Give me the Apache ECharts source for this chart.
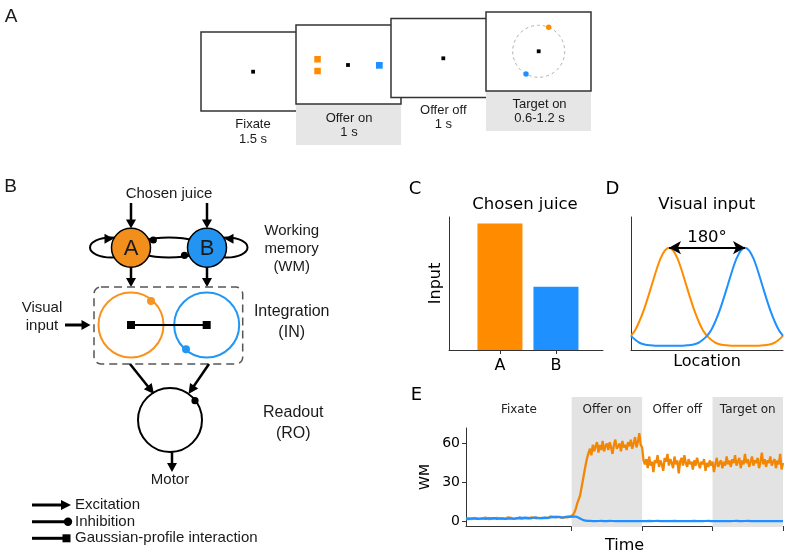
<!DOCTYPE html>
<html>
<head>
<meta charset="utf-8">
<script src="https://cdn.jsdelivr.net/npm/echarts@6/dist/echarts.min.js"></script>
<style>
html,body{margin:0;padding:0;background:#fff;}
#chart{width:787px;height:555px;}
</style>
</head>
<body>
<div id="chart"></div>
<script>
// ---------------- DATA ----------------
// Panel C: chosen juice input
const juiceCats = ['A', 'B'];
const juiceInput = [1.0, 0.5];

// Panel D: visual input profiles vs location (deg)
const locationDeg = [0,10,20,30,40,50,60,70,80,90,100,110,120,130,140,150,160,170,180,
  190,200,210,220,230,240,250,260,270,280,290,300,310,320,330,340,350,360];
const orangeVisual = [0.10,0.16,0.25,0.36,0.49,0.63,0.77,0.89,0.97,1.00,0.97,0.89,0.77,0.63,0.49,0.36,0.25,0.16,0.10,
  0.06,0.03,0.015,0.007,0.003,0,0,0,0,0,0,0,0.003,0.007,0.015,0.03,0.06,0.10];
const blueVisual = [0.10,0.06,0.03,0.015,0.007,0.003,0,0,0,0,0,0,0,0.003,0.007,0.015,0.03,0.06,0.10,
  0.16,0.25,0.36,0.49,0.63,0.77,0.89,0.97,1.00,0.97,0.89,0.77,0.63,0.49,0.36,0.25,0.16,0.10];
const separationLabel = '180°';

// Panel E: task phases and WM activity
const phaseNames = ['Fixate', 'Offer on', 'Offer off', 'Target on'];
const phaseBounds = [0, 1.5, 2.5, 3.5, 4.5];
const phaseShaded = [false, true, false, true];
const timeStep = 0.02; // s between samples
const orangeWM = [
  2.1,1.8,2.4,2.0,1.7,2.3,2.6,1.9,2.2,2.8, 2.0,1.6,2.4,2.1,2.9,2.2,1.8,2.5,2.0,2.7,
  2.3,1.9,2.6,3.0,2.2,1.8,2.4,2.9,2.1,2.5, 3.1,2.0,2.6,2.3,1.9,2.8,2.4,3.2,2.2,2.7,
  2.0,2.9,2.5,3.3,2.1,2.6,3.0,2.4,2.8,3.5, 2.2,2.9,2.6,3.4,2.3,3.1,2.7,3.6,2.5,3.0,
  3.8,2.6,3.2,2.9,3.7,2.7,3.3,4.0,2.8,3.4, 3.1,3.9,3.0,3.5,3.8,
  4,5,7,10,14,17,20,26,32,38,44,49,53,
  56,51,59,54,58,61,53,59,55,62, 54,58,60,55,61,57,52,59,63,56,
  58,60,54,62,57,59,55,61,58,63, 56,60,65,57,61,68,59,
  57,47,
  44,48,41,50,43,46,38,47,45,51, 42,47,44,39,49,46,52,43,48,45,
  41,50,44,47,37,46,49,43,51,45, 42,48,44,46,40,47,43,49,45,41,
  46,44,48,39,45,42,47,43,46,38, 44,49,42,45,47,41,46,43,50,44,
  47,42,48,45,51,43,46,49,41,47, 44,52,45,48,42,46,50,43,47,45,
  49,41,46,53,44,48,42,47,45,50, 43,46,48,41,47,44,52,40,45
];
const blueWM = [
  1.9,2.2,1.7,2.0,2.4,1.8,2.1,2.5,1.9,2.3, 2.0,1.7,2.2,2.6,1.9,2.1,2.4,1.8,2.3,2.0,
  2.5,2.1,1.9,2.4,2.2,2.7,2.0,2.3,1.8,2.6, 2.2,2.9,2.1,2.4,2.0,2.8,2.3,2.5,3.0,2.2,
  2.6,2.4,2.9,2.1,2.7,3.1,2.3,2.5,2.8,2.2, 3.0,2.6,2.4,3.2,2.7,2.5,2.9,3.3,2.6,2.8,
  3.1,2.7,3.4,2.9,3.0,2.8,3.5,3.1,2.9,3.6, 3.2,3.0,3.7,3.3,3.5,
  3.8,3.6,4.0,3.7,3.3,2.8,2.2,1.6,1.1,0.7,0.5,0.4,0.3,
  0.3,0.25,0.2,0.3,0.2,0.15,0.25,0.2,0.3,0.2, 0.2,0.25,0.15,0.2,0.3,0.2,0.25,0.15,0.2,0.25,
  0.2,0.3,0.2,0.15,0.25,0.2,0.2,0.3,0.15,0.2, 0.25,0.2,0.2,0.3,0.15,0.25,0.2,0.2,0.25,0.15,
  0.2,0.25,0.3,0.2,0.15,0.2,0.25,0.2,0.3,0.2, 0.15,0.2,0.25,0.2,0.2,0.3,0.15,0.25,0.2,0.2,
  0.3,0.2,0.15,0.25,0.2,0.2,0.25,0.3,0.2,0.15, 0.2,0.25,0.2,0.15,0.3,0.2,0.2,0.25,0.2,0.3,
  0.15,0.2,0.25,0.2,0.3,0.2,0.15,0.2,0.25,0.2, 0.2,0.3,0.2,0.25,0.15,0.2,0.2,0.3,0.2,0.25,
  0.2,0.15,0.25,0.2,0.3,0.2,0.2,0.25,0.15,0.2, 0.25,0.2,0.3,0.2,0.15,0.2,0.25,0.2,0.2,0.3,
  0.2,0.25,0.15,0.2,0.2,0.3,0.2,0.25,0.2,0.15, 0.2,0.25,0.2,0.3,0.2,0.15,0.25,0.2
];
const wmTicks = [0, 30, 60];
const timeTicks = [1.5, 2.5, 3.5, 4.5];

// ---------------- STYLE ----------------
const ORANGE = '#ff8c00';
const BLUE = '#1e90ff';
const ORANGE_E = '#f28705';
const DJ = 'DejaVu Sans';
const LS = 'Liberation Sans';
const AX = '#333';

// ---------------- SCHEMATICS (panels A & B) ----------------
const els = [];
function T(x, y, text, size, opts) {
  els.push({type: 'text', x: x, y: y, silent: true, style: Object.assign({
    text: text, font: size + 'px "' + LS + '"', fill: '#1a1a1a',
    textAlign: 'center', textVerticalAlign: 'middle', align: 'center', verticalAlign: 'middle'
  }, opts || {})});
}
function R(x, y, w, h, style, r) { els.push({type: 'rect', silent: true, shape: {x: x, y: y, width: w, height: h, r: r || 0}, style: style}); }
function C(cx, cy, r, style) { els.push({type: 'circle', silent: true, shape: {cx: cx, cy: cy, r: r}, style: style}); }
function E(cx, cy, rx, ry, style) { els.push({type: 'ellipse', silent: true, shape: {cx: cx, cy: cy, rx: rx, ry: ry}, style: style}); }
function L(x1, y1, x2, y2, style) { els.push({type: 'line', silent: true, shape: {x1: x1, y1: y1, x2: x2, y2: y2}, style: style}); }
function P(points, style) { els.push({type: 'polygon', silent: true, shape: {points: points}, style: style}); }
function arrow(x1, y1, x2, y2, lw, hl, hw, color) {
  color = color || '#000';
  const dx = x2 - x1, dy = y2 - y1, len = Math.hypot(dx, dy), ux = dx / len, uy = dy / len;
  const bx = x2 - ux * hl, by = y2 - uy * hl;
  L(x1, y1, bx + ux, by + uy, {stroke: color, lineWidth: lw});
  P([[x2, y2], [bx - uy * hw / 2, by + ux * hw / 2], [bx + uy * hw / 2, by - ux * hw / 2]], {fill: color});
}
const boxStyle = {fill: '#fff', stroke: '#333', lineWidth: 1.5};
const greyBox = {fill: '#e6e6e6'};

// Panel A
T(11, 17, 'A', 19);
R(201, 32, 105, 79, boxStyle);
R(251.2, 69.8, 3.8, 3.8, {fill: '#000'});
R(296, 104, 105, 41, greyBox);
R(296, 25, 105, 79, boxStyle);
R(346.1, 63.1, 3.8, 3.8, {fill: '#000'});
R(314.3, 56, 6.5, 6.5, {fill: ORANGE});
R(314.3, 67.8, 6.5, 6.5, {fill: ORANGE});
R(376, 62, 6.7, 6.7, {fill: BLUE});
R(391, 18.5, 105, 79, boxStyle);
R(441.4, 56.4, 3.8, 3.8, {fill: '#000'});
R(486, 91, 105, 40, greyBox);
R(486, 12, 105, 79, boxStyle);
C(538.7, 51.3, 26, {fill: 'none', stroke: '#b0b0b0', lineWidth: 1, lineDash: [3, 3]});
R(536.8, 49.4, 3.8, 3.8, {fill: '#000'});
C(548.7, 27.3, 2.7, {fill: ORANGE});
C(526, 74, 2.7, {fill: BLUE});
T(253, 124.5, 'Fixate', 13);
T(253, 139.5, '1.5 s', 13);
T(349, 118.5, 'Offer on', 13);
T(349, 132, '1 s', 13);
T(443.3, 110.5, 'Offer off', 13);
T(443.3, 124.5, '1 s', 13);
T(539.5, 104, 'Target on', 13);
T(539.5, 118, '0.6-1.2 s', 13);

// Panel B
T(10.5, 187, 'B', 19);
T(169, 193.5, 'Chosen juice', 15);
arrow(131, 203, 131, 228.5, 2.5, 9, 10);
arrow(207, 203, 207, 228.5, 2.5, 9, 10);
const loopStyle = {fill: 'none', stroke: '#000', lineWidth: 2};
E(111, 247.5, 21, 10, loopStyle);
E(169, 247.5, 36, 10, loopStyle);
E(227, 247.5, 20.5, 10, loopStyle);
C(131, 247.7, 19.5, {fill: '#f28e1c', stroke: '#000', lineWidth: 1.5});
C(207, 247.7, 19.5, {fill: '#2494f2', stroke: '#000', lineWidth: 1.5});
T(131, 248.5, 'A', 22);
T(207, 248.5, 'B', 22);
P([[113.5, 238.8], [104.5, 233.8], [104.5, 243.8]], {fill: '#000'});
P([[224.5, 238.8], [233.5, 233.8], [233.5, 243.8]], {fill: '#000'});
C(153.3, 240, 3.6, {fill: '#000'});
C(184.5, 255.3, 3.6, {fill: '#000'});
arrow(131, 267, 131, 287, 2.5, 9, 10);
arrow(207, 267, 207, 287, 2.5, 9, 10);
R(94, 287, 148.7, 77, {fill: 'none', stroke: '#555', lineWidth: 1.5, lineDash: [8, 5]}, 7);
C(131, 325, 32.5, {fill: 'none', stroke: '#f7931e', lineWidth: 2});
C(206.7, 325, 32.5, {fill: 'none', stroke: '#2196f3', lineWidth: 2});
C(151, 301, 4, {fill: '#f7931e'});
C(186, 349.3, 4, {fill: '#2196f3'});
L(131, 325, 206.7, 325, {stroke: '#000', lineWidth: 2});
R(127, 321, 8, 8, {fill: '#000'});
R(202.7, 321, 8, 8, {fill: '#000'});
T(42, 308, 'Visual', 15);
T(42, 325.5, 'input', 15);
arrow(65, 325, 90.5, 325, 3, 9, 10);
T(291.7, 231, 'Working', 15);
T(291.7, 249, 'memory', 15);
T(291.7, 267, '(WM)', 15);
T(291.7, 312, 'Integration', 16);
T(291.7, 332.5, '(IN)', 16);
T(293.3, 413, 'Readout', 16);
T(293.3, 433.5, '(RO)', 16);
arrow(130, 364, 154, 394, 2.5, 10, 10);
arrow(209, 364, 188.5, 394, 2.5, 10, 10);
C(170, 420, 32, {fill: 'none', stroke: '#000', lineWidth: 2});
C(195, 400.7, 3.6, {fill: '#000'});
arrow(172, 452, 172, 472, 2.5, 9, 10);
T(170, 480, 'Motor', 15);
arrow(32, 505, 71, 505, 3, 10, 10);
T(75, 505, 'Excitation', 15, {textAlign: 'left', align: 'left'});
L(32, 521.7, 66, 521.7, {stroke: '#000', lineWidth: 3});
C(68, 521.7, 4.2, {fill: '#000'});
T(75, 521.7, 'Inhibition', 15, {textAlign: 'left', align: 'left'});
L(32, 538.3, 64, 538.3, {stroke: '#000', lineWidth: 3});
R(62.5, 534.3, 8, 8, {fill: '#000'});
T(75, 538.3, 'Gaussian-profile interaction', 15, {textAlign: 'left', align: 'left'});

// panel letters & titles C/D/E
function TD(x, y, text, size, opts) { T(x, y, text, size, Object.assign({font: size + 'px "' + DJ + '"', fill: '#000'}, opts || {})); }
TD(415, 189, 'C', 18);
TD(612.5, 189, 'D', 18);
TD(416.5, 395, 'E', 18);
TD(525, 204.5, 'Chosen juice', 16.5);
TD(706.7, 204.5, 'Visual input', 16.5);

// ---------------- CHART ----------------
const wmTimes = orangeWM.map((_, i) => +(i * timeStep).toFixed(2));
const markAreaData = phaseNames.map((name, i) => [
  {xAxis: phaseBounds[i], name: name, itemStyle: {color: phaseShaded[i] ? '#e3e3e3' : 'rgba(0,0,0,0)'}},
  {xAxis: phaseBounds[i + 1]}
]);

const axisLineStyle = {show: true, onZero: false, lineStyle: {color: AX, width: 1}};
const noSplit = {show: false};

const option = {
  backgroundColor: '#fff',
  animation: false,
  graphic: {elements: els},
  grid: [
    {left: 449, top: 217, width: 154, height: 133},
    {left: 631, top: 217, width: 152, height: 133},
    {left: 466, top: 397, width: 317, height: 130},
    {left: 466, top: 428, width: 317, height: 99}
  ],
  xAxis: [
    {gridIndex: 0, type: 'value', min: -0.91, max: 1.84, axisLine: axisLineStyle, splitLine: noSplit,
      axisTick: {show: true, customValues: [0, 1], length: 4, lineStyle: {color: AX}},
      axisLabel: {show: true, customValues: [0, 1], formatter: v => juiceCats[Math.round(v)], fontSize: 16, fontFamily: DJ, color: '#000', margin: 8}},
    {gridIndex: 1, type: 'value', min: 0, max: 360, axisLine: axisLineStyle, splitLine: noSplit,
      axisTick: {show: false}, axisLabel: {show: false},
      name: 'Location', nameLocation: 'middle', nameGap: 4, nameTextStyle: {fontSize: 16, fontFamily: DJ, color: '#000', verticalAlign: 'top'}},
    {gridIndex: 2, type: 'value', min: 0, max: 4.5, show: false},
    {gridIndex: 3, type: 'value', min: 0, max: 4.5, axisLine: axisLineStyle, splitLine: noSplit,
      axisTick: {show: true, customValues: timeTicks, length: 5, lineStyle: {color: AX}}, axisLabel: {show: false},
      name: 'Time', nameLocation: 'middle', nameGap: 12, nameTextStyle: {fontSize: 16, fontFamily: DJ, color: '#000', verticalAlign: 'top'}}
  ],
  yAxis: [
    {gridIndex: 0, type: 'value', min: 0, max: 1.052, axisLine: axisLineStyle, splitLine: noSplit,
      axisTick: {show: false}, axisLabel: {show: false},
      name: 'Input', nameLocation: 'middle', nameGap: 5, nameTextStyle: {fontSize: 16, fontFamily: DJ, color: '#000', verticalAlign: 'bottom'}},
    {gridIndex: 1, type: 'value', min: -0.044, max: 1.313, axisLine: axisLineStyle, splitLine: noSplit,
      axisTick: {show: false}, axisLabel: {show: false}},
    {gridIndex: 2, type: 'value', min: 0, max: 1, show: false},
    {gridIndex: 3, type: 'value', min: -3.6, max: 72, axisLine: axisLineStyle, splitLine: noSplit,
      axisTick: {show: true, customValues: wmTicks, length: 4, lineStyle: {color: AX}},
      axisLabel: {show: true, customValues: wmTicks, fontSize: 14, fontFamily: DJ, color: '#000', margin: 6},
      name: 'WM', nameLocation: 'middle', nameGap: 34, nameTextStyle: {fontSize: 14, fontFamily: DJ, color: '#000', verticalAlign: 'bottom'}}
  ],
  series: [
    {type: 'bar', xAxisIndex: 0, yAxisIndex: 0, barWidth: 45, silent: true,
      data: juiceInput.map((v, i) => ({value: [i, v], itemStyle: {color: i === 0 ? ORANGE : BLUE}}))},
    {type: 'line', xAxisIndex: 1, yAxisIndex: 1, smooth: 0.35, showSymbol: false, symbol: 'none', silent: true,
      lineStyle: {color: ORANGE, width: 2}, itemStyle: {color: ORANGE},
      data: locationDeg.map((x, i) => [x, orangeVisual[i]]),
      markLine: {silent: true, symbol: ['arrow', 'arrow'], symbolSize: [10, 12],
        lineStyle: {color: '#000', width: 2, type: 'solid'},
        label: {show: true, position: 'middle', formatter: () => separationLabel, fontSize: 16.5, fontFamily: DJ, color: '#000', distance: 1},
        data: [[{coord: [locationDeg[orangeVisual.indexOf(1)], 1]}, {coord: [locationDeg[blueVisual.indexOf(1)], 1]}]]}},
    {type: 'line', xAxisIndex: 1, yAxisIndex: 1, smooth: 0.35, showSymbol: false, symbol: 'none', silent: true,
      lineStyle: {color: BLUE, width: 2}, itemStyle: {color: BLUE},
      data: locationDeg.map((x, i) => [x, blueVisual[i]])},
    {type: 'line', xAxisIndex: 2, yAxisIndex: 2, z: 1, silent: true, symbol: 'none', lineStyle: {opacity: 0},
      data: [[0, 0], [4.5, 0]],
      markArea: {silent: true,
        label: {show: true, position: 'insideTop', distance: 7, fontSize: 12, fontFamily: DJ, color: '#222'},
        data: markAreaData}},
    {type: 'line', xAxisIndex: 3, yAxisIndex: 3, z: 3, silent: true, symbol: 'none',
      lineStyle: {color: ORANGE_E, width: 2.3}, data: wmTimes.map((t, i) => [t, orangeWM[i]])},
    {type: 'line', xAxisIndex: 3, yAxisIndex: 3, z: 4, silent: true, symbol: 'none',
      lineStyle: {color: BLUE, width: 2.2}, data: wmTimes.map((t, i) => [t, blueWM[i]])}
  ]
};

const chart = echarts.init(document.getElementById('chart'), null, {renderer: 'canvas', width: 787, height: 555});
chart.setOption(option);
</script>
</body>
</html>
